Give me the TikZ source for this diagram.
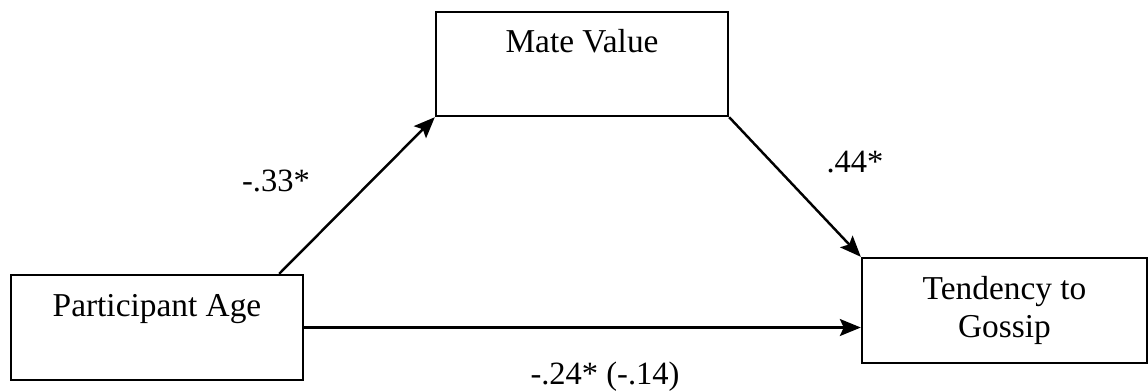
\documentclass[tikz,border=0pt]{standalone}
\usepackage{fontspec}
\setmainfont{Liberation Serif}
\usetikzlibrary{arrows.meta,positioning}

\begin{document}
\begin{tikzpicture}[x=0.02cm,y=-0.02cm,
  box/.style={draw,line width=1.4pt,minimum width=5.84cm,minimum height=2.1cm,
    font=\fontsize{19}{21.6}\selectfont,align=center},
  path/.style={line width=1.4pt,-{Stealth[length=0.42cm,width=0.34cm,inset=0.08cm]}},
  coef/.style={font=\fontsize{18.5}{22}\selectfont}]
\useasboundingbox (0,0) rectangle (1148,390);
\node[box,minimum height=2.08cm,label={[anchor=base,yshift=-0.84cm,font=\fontsize{19}{22}\selectfont]north:Mate Value}] (mate) at (582,64) {};
\node[box,label={[anchor=base,yshift=-0.86cm,font=\fontsize{19}{22}\selectfont]north:Participant Age}] (age) at (157,327.5) {};
\node[box,minimum width=5.7cm] (gossip) at (1004.5,310.5) {Tendency to\\Gossip};
\draw[path] ([xshift=-0.5cm]age.north east) -- (mate.south west);
\draw[path] (mate.south east) -- (gossip.north west);
\draw[path] (age.east) -- (age.east -| gossip.west);
\node[coef] (a) at (276,181) {-.33*};
\node[coef] (b) at (855,162) {.44*};
\node[coef] (c) at (605,377) {-.24* (-.14)};
\end{tikzpicture}
\end{document}
